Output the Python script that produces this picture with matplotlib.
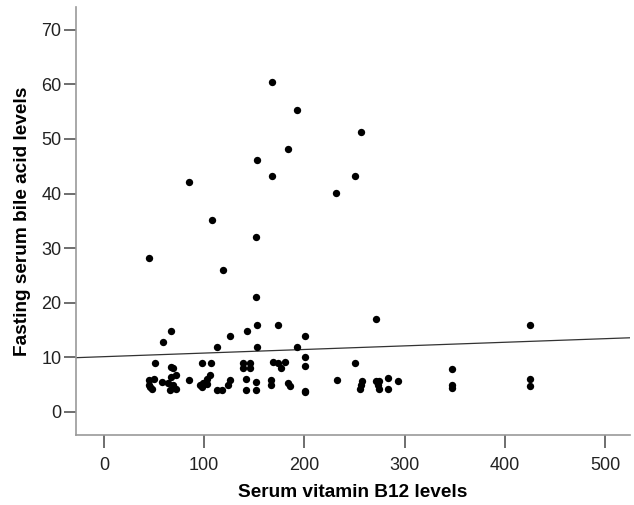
import matplotlib
matplotlib.use('Agg')
import matplotlib.pyplot as plt

plt.rcParams['font.family'] = ['Liberation Sans', 'DejaVu Sans']

# serum B12 vs fasting bile acid
b12 = [45, 85, 108, 119, 152, 153, 168, 168, 184, 193, 232, 250, 256, 152,
       67, 59, 113, 126, 143, 153, 174, 201, 153, 193, 271, 425,
       51, 67, 69, 98, 107,
       45, 50, 45, 48, 46, 58,
       64, 67, 72, 69, 66, 72, 85,
       96, 99, 103, 106, 98, 103,
       113, 118, 124, 126,
       139, 146, 139, 146,
       169, 174, 181, 177, 201, 201,
       142, 152, 142, 152, 167, 167, 184, 186, 201, 201,
       250, 233, 257, 255, 256,
       271, 274, 274, 273, 283, 283, 293,
       347, 347, 347, 425, 425]
bile = [28.1, 42.1, 35.1, 26.0, 32.0, 46.1, 60.5, 43.2, 48.2, 55.3, 40.1, 43.2, 51.3, 21.0,
        14.8, 12.8, 11.8, 13.9, 14.8, 15.9, 15.9, 13.9, 11.8, 11.8, 17.0, 15.9,
        8.9, 8.2, 8.0, 8.9, 8.9,
        5.8, 6.0, 4.9, 4.1, 4.5, 5.4,
        5.2, 6.3, 6.7, 4.8, 4.0, 4.1, 5.8,
        4.8, 5.2, 6.0, 6.7, 4.5, 5.0,
        3.9, 3.9, 4.9, 5.8,
        8.9, 8.9, 8.0, 8.0,
        9.1, 8.9, 9.1, 8.0, 10.0, 8.3,
        6.0, 5.4, 3.9, 3.9, 5.8, 4.9, 5.2, 4.7, 3.8, 3.5,
        8.9, 5.8, 5.6, 4.1, 4.8,
        5.6, 5.6, 4.2, 4.9, 6.1, 4.2, 5.6,
        7.8, 4.9, 4.4, 6.0, 4.6]

# fit line as drawn
fit_intercept = 10.07
fit_slope = 0.0066

x_ticks = [0, 100, 200, 300, 400, 500]
y_ticks = [0, 10, 20, 30, 40, 50, 60, 70]

fig = plt.figure(figsize=(6.34, 5.05), dpi=100)
ax = fig.add_axes([0.1199, 0.1386, 0.8738, 0.8474])

xmin, xmax = -28, 525
ax.plot([xmin, xmax], [fit_intercept + fit_slope * xmin, fit_intercept + fit_slope * xmax],
        color='#333333', linewidth=0.9, zorder=1)
ax.scatter(b12, bile, s=28, color='black', linewidths=0, zorder=2)

ax.set_xlim(xmin, xmax)
ax.set_ylim(-4.3, 74.2)
ax.set_xticks(x_ticks)
ax.set_yticks(y_ticks)

for side in ['top', 'right']:
    ax.spines[side].set_visible(False)
for side in ['left', 'bottom']:
    ax.spines[side].set_color('#999999')
    ax.spines[side].set_linewidth(1.2)

ax.tick_params(axis='x', length=9, width=1.2, color='#555555', pad=7, labelsize=13, labelcolor='#222222')
ax.tick_params(axis='y', length=9, width=1.2, color='#555555', pad=1.5, labelsize=13, labelcolor='#222222')

ax.set_xlabel('Serum vitamin B12 levels', fontsize=13.7, fontweight='bold', labelpad=7)
ax.set_ylabel('Fasting serum bile acid levels', fontsize=13.7, fontweight='bold', labelpad=7)

fig.savefig('out.png', dpi=100)
